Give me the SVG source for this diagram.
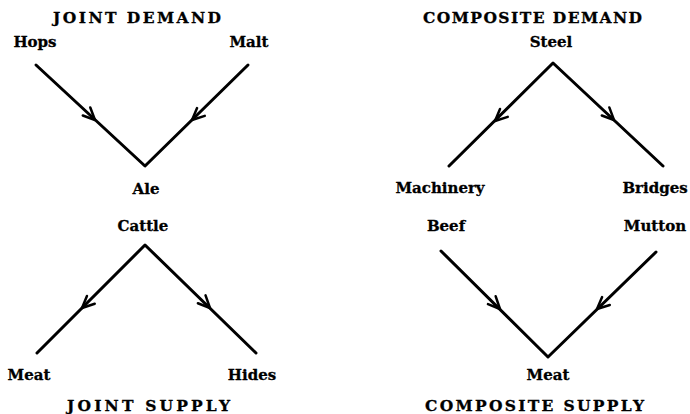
<svg xmlns="http://www.w3.org/2000/svg" xmlns:xlink="http://www.w3.org/1999/xlink" width="690" height="414" viewBox="0 0 690 414">
<style>
.t{font-family:"DejaVu Serif","Liberation Serif",serif;font-weight:bold;font-size:15px;fill:#000;stroke:#000;stroke-width:0.3}
.h{font-family:"DejaVu Serif","Liberation Serif",serif;font-weight:bold;font-size:15.5px;fill:#000;stroke:#000;stroke-width:0.3}
.ln{stroke:#000;stroke-width:3;fill:none;stroke-linecap:round;stroke-linejoin:round}
.ah{stroke:#000;stroke-width:2.5;fill:none;stroke-linecap:round;stroke-linejoin:round}
</style>
<defs>
<path id="arr" class="ah" d="M-12,-6 L0,0 L-12,5"/>
</defs>
<rect width="690" height="414" fill="#fff"/>
<g id="titles">
<text class="h" x="53" y="23" textLength="168" lengthAdjust="spacing">JOINT DEMAND</text>
<text class="h" x="423" y="23" textLength="219" lengthAdjust="spacing">COMPOSITE DEMAND</text>
<text class="h" x="67" y="411" textLength="163" lengthAdjust="spacing">JOINT SUPPLY</text>
<text class="h" x="425" y="411" textLength="219" lengthAdjust="spacing">COMPOSITE SUPPLY</text>
</g>
<g id="hops"><text class="t" x="35" y="47" text-anchor="middle">Hops</text></g>
<g id="malt"><text class="t" x="249" y="47" text-anchor="middle">Malt</text></g>
<g id="ale"><text class="t" x="146" y="194" text-anchor="middle">Ale</text></g>
<g id="steel"><text class="t" x="551" y="47" text-anchor="middle">Steel</text></g>
<g id="machinery"><text class="t" x="440" y="193" text-anchor="middle">Machinery</text></g>
<g id="bridges"><text class="t" x="655" y="193" text-anchor="middle">Bridges</text></g>
<g id="cattle"><text class="t" x="143" y="231" text-anchor="middle">Cattle</text></g>
<g id="meat1"><text class="t" x="29" y="380" text-anchor="middle">Meat</text></g>
<g id="hides"><text class="t" x="252" y="380" text-anchor="middle">Hides</text></g>
<g id="beef"><text class="t" x="446" y="231" text-anchor="middle">Beef</text></g>
<g id="mutton"><text class="t" x="655" y="231" text-anchor="middle">Mutton</text></g>
<g id="meat2"><text class="t" x="548" y="380" text-anchor="middle">Meat</text></g>
<g id="connectors">
<path class="ln" d="M36,65 L145,166 L248,65"/>
<use xlink:href="#arr" transform="translate(95,120) rotate(42.8)"/>
<use xlink:href="#arr" transform="translate(192,120) rotate(135.6)"/>
<path class="ln" d="M449,166 L553,63 L663,166"/>
<use xlink:href="#arr" transform="translate(495,121) rotate(135.3)"/>
<use xlink:href="#arr" transform="translate(614,120) rotate(43)"/>
<path class="ln" d="M37,353 L145,245 L256,353"/>
<use xlink:href="#arr" transform="translate(82,308) rotate(135)"/>
<use xlink:href="#arr" transform="translate(210,308) rotate(44)"/>
<path class="ln" d="M441,251 L548,357 L656,252"/>
<use xlink:href="#arr" transform="translate(500,309) rotate(44.7)"/>
<use xlink:href="#arr" transform="translate(597,309) rotate(135.8)"/>
</g>
</svg>
